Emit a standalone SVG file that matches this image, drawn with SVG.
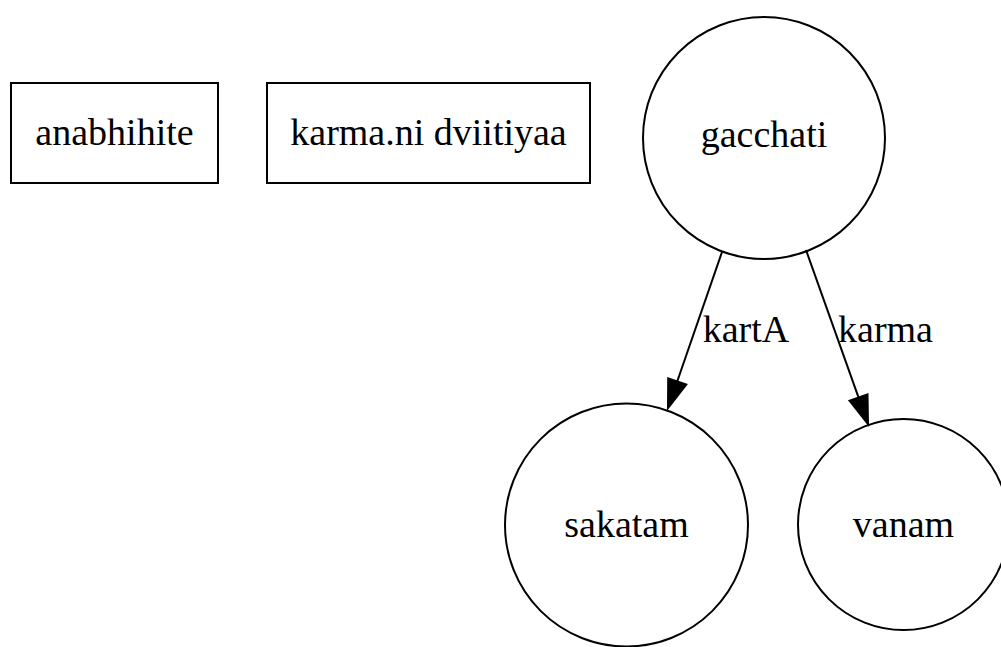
<svg xmlns="http://www.w3.org/2000/svg" width="1001" height="647" viewBox="0 0 1001 647">
  <style>
    .shape { fill: none; stroke: #000; stroke-width: 2; }
    .edge { fill: none; stroke: #000; stroke-width: 2; }
    .head { fill: #000; stroke: #000; stroke-width: 2; }
    text { font-family: "Liberation Serif", "Times New Roman", serif; font-size: 38px; fill: #000; text-anchor: middle; }
  </style>
  <rect width="1001" height="647" fill="#fff"/>

  <g id="node-anabhihite">
    <rect class="shape" x="11" y="83" width="207" height="100"/>
    <text x="114.5" y="145">anabhihite</text>
  </g>

  <g id="node-karmani-dviitiyaa">
    <rect class="shape" x="267" y="83" width="323" height="100"/>
    <text x="428.5" y="145">karma.ni dviitiyaa</text>
  </g>

  <g id="node-gacchati">
    <circle class="shape" cx="764" cy="138" r="121"/>
    <text x="764" y="147">gacchati</text>
  </g>

  <g id="node-sakatam">
    <circle class="shape" cx="626.5" cy="525" r="121.5"/>
    <text x="626.5" y="537">sakatam</text>
  </g>

  <g id="node-vanam">
    <circle class="shape" cx="903.5" cy="524.5" r="105.5"/>
    <text x="903.5" y="537">vanam</text>
  </g>

  <g id="connectors">
    <g id="edge-gacchati-sakatam">
      <path class="edge" d="M722,252 L677.2,381.5"/>
      <polygon class="head" points="686.2,384.6 668,408 668.2,378.4"/>
      <text x="746" y="342">kartA</text>
    </g>
    <g id="edge-gacchati-vanam">
      <path class="edge" d="M806,250 L858.6,397.6"/>
      <polygon class="head" points="867.5,394.4 868,424 849.6,400.8"/>
      <text x="885.5" y="342">karma</text>
    </g>
  </g>
</svg>
